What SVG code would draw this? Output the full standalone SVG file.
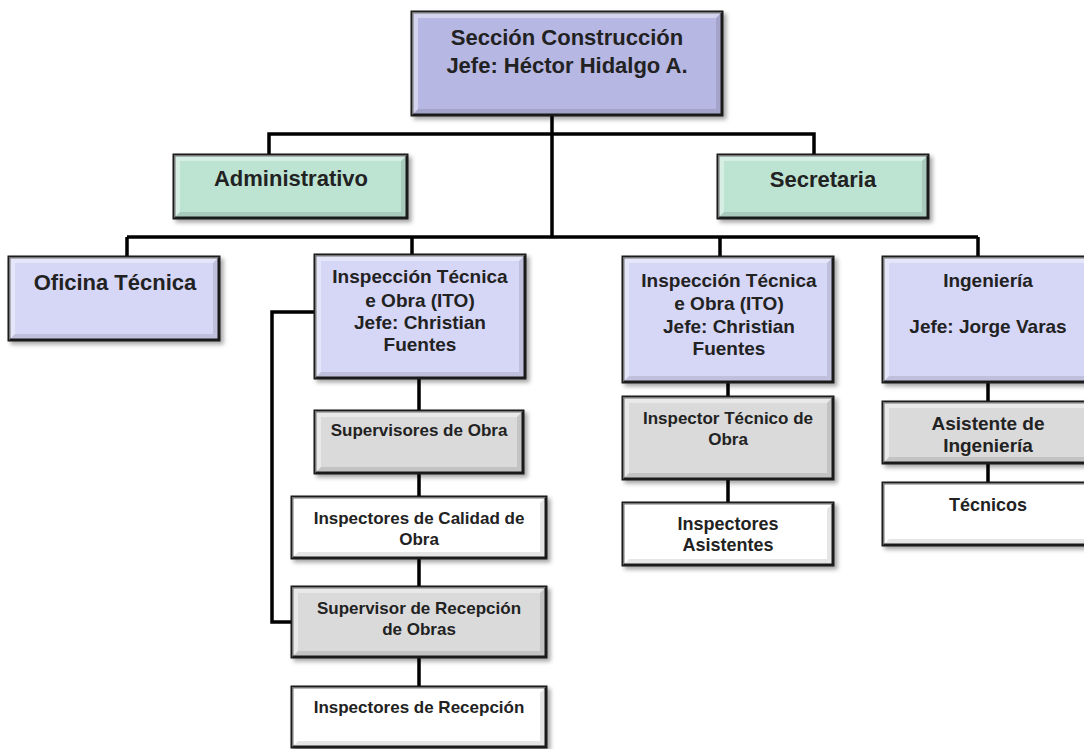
<svg xmlns="http://www.w3.org/2000/svg" width="1084" height="749" viewBox="0 0 1084 749">
  <defs>
    <filter id="shadow" x="-10%" y="-10%" width="130%" height="140%">
      <feDropShadow dx="3" dy="3" stdDeviation="2" flood-color="#000" flood-opacity="0.35"/>
    </filter>
  </defs>
  <style>
    .box { stroke: #1c1c1c; stroke-width: 3; filter: url(#shadow); }
    .head { fill: #b7b7e3; }
    .unit { fill: #d6d6f7; }
    .staff { fill: #bde3d3; }
    .sub { fill: #dadada; }
    .leaf { fill: #ffffff; }
    .hi { fill: #ffffff; fill-opacity: 0.4; }
    .lo { fill: #000000; fill-opacity: 0.1; }
    .wire { fill: none; stroke: #000; stroke-width: 3.5; }
    text { font-family: "Liberation Sans", Arial, sans-serif; font-weight: bold; fill: #222; text-anchor: middle; }
    .t22 { font-size: 22px; }
    .t19 { font-size: 19px; }
    .t18 { font-size: 18px; }
    .t17 { font-size: 17px; }
  </style>

  <rect width="1084" height="749" fill="#ffffff"/>

  <!-- connectors -->
  <g id="connectors">
    <path class="wire" d="M552,115 V237"/>
    <path class="wire" d="M269,155 V134 H814 V155"/>
    <path class="wire" d="M127,237 H978"/>
    <path class="wire" d="M127,237 V257 M412,237 V255 M720,237 V257 M978,237 V257"/>
    <path class="wire" d="M419,378 V411 M419,473 V497 M419,558 V587 M419,657 V687"/>
    <path class="wire" d="M315,312 H272 V622 H292"/>
    <path class="wire" d="M728,382 V397 M728,479 V503"/>
    <path class="wire" d="M988,382 V402 M988,463 V483"/>
  </g>

  <!-- Sección Construcción -->
  <g id="seccion">
    <rect class="box head" x="412" y="12" width="310" height="103"/>
    <path class="hi" d="M412,12 H722 L716,18 H418 V109 L412,115 Z"/>
    <path class="lo" d="M722,12 V115 H412 L418,109 H716 V18 Z"/>
    <text class="t22" x="567" y="45">Sección Construcción</text>
    <text class="t22" x="567" y="73">Jefe: Héctor Hidalgo A.</text>
  </g>

  <g id="administrativo">
    <rect class="box staff" x="174" y="155" width="233" height="63"/>
    <path class="hi" d="M174,155 H407 L401,161 H180 V212 L174,218 Z"/>
    <path class="lo" d="M407,155 V218 H174 L180,212 H401 V161 Z"/>
    <text class="t22" x="291" y="186">Administrativo</text>
  </g>

  <g id="secretaria">
    <rect class="box staff" x="718" y="155" width="210" height="63"/>
    <path class="hi" d="M718,155 H928 L922,161 H724 V212 L718,218 Z"/>
    <path class="lo" d="M928,155 V218 H718 L724,212 H922 V161 Z"/>
    <text class="t22" x="823" y="187">Secretaria</text>
  </g>

  <g id="oficina-tecnica">
    <rect class="box unit" x="9" y="257" width="210" height="83"/>
    <path class="hi" d="M9,257 H219 L213,263 H15 V334 L9,340 Z"/>
    <path class="lo" d="M219,257 V340 H9 L15,334 H213 V263 Z"/>
    <text class="t22" x="115" y="290">Oficina Técnica</text>
  </g>

  <g id="ito-1">
    <rect class="box unit" x="315" y="255" width="210" height="123"/>
    <path class="hi" d="M315,255 H525 L519,261 H321 V372 L315,378 Z"/>
    <path class="lo" d="M525,255 V378 H315 L321,372 H519 V261 Z"/>
    <text class="t19" x="420" y="283">Inspección Técnica</text>
    <text class="t19" x="420" y="307">e Obra (ITO)</text>
    <text class="t19" x="420" y="329">Jefe: Christian</text>
    <text class="t19" x="420" y="351">Fuentes</text>
  </g>

  <g id="ito-2">
    <rect class="box unit" x="623" y="257" width="210" height="125"/>
    <path class="hi" d="M623,257 H833 L827,263 H629 V376 L623,382 Z"/>
    <path class="lo" d="M833,257 V382 H623 L629,376 H827 V263 Z"/>
    <text class="t19" x="729" y="287">Inspección Técnica</text>
    <text class="t19" x="729" y="310">e Obra (ITO)</text>
    <text class="t19" x="729" y="333">Jefe: Christian</text>
    <text class="t19" x="729" y="355">Fuentes</text>
  </g>

  <g id="ingenieria">
    <rect class="box unit" x="883" y="257" width="210" height="125"/>
    <path class="hi" d="M883,257 H1093 L1087,263 H889 V376 L883,382 Z"/>
    <path class="lo" d="M1093,257 V382 H883 L889,376 H1087 V263 Z"/>
    <text class="t19" x="988" y="287">Ingeniería</text>
    <text class="t19" x="988" y="333">Jefe: Jorge Varas</text>
  </g>

  <g id="supervisores-obra">
    <rect class="box sub" x="315" y="411" width="208" height="62"/>
    <path class="hi" d="M315,411 H523 L517,417 H321 V467 L315,473 Z"/>
    <path class="lo" d="M523,411 V473 H315 L321,467 H517 V417 Z"/>
    <text class="t17" x="419" y="436">Supervisores de Obra</text>
  </g>

  <g id="inspectores-calidad">
    <rect class="box leaf" x="292" y="497" width="254" height="61"/>
    <path class="hi" d="M292,497 H546 L540,503 H298 V552 L292,558 Z"/>
    <path class="lo" d="M546,497 V558 H292 L298,552 H540 V503 Z"/>
    <text class="t17" x="419" y="524">Inspectores de Calidad de</text>
    <text class="t17" x="419" y="545">Obra</text>
  </g>

  <g id="supervisor-recepcion">
    <rect class="box sub" x="292" y="587" width="254" height="70"/>
    <path class="hi" d="M292,587 H546 L540,593 H298 V651 L292,657 Z"/>
    <path class="lo" d="M546,587 V657 H292 L298,651 H540 V593 Z"/>
    <text class="t17" x="419" y="614">Supervisor de Recepción</text>
    <text class="t17" x="419" y="635">de Obras</text>
  </g>

  <g id="inspectores-recepcion">
    <rect class="box leaf" x="292" y="687" width="254" height="60"/>
    <path class="hi" d="M292,687 H546 L540,693 H298 V741 L292,747 Z"/>
    <path class="lo" d="M546,687 V747 H292 L298,741 H540 V693 Z"/>
    <text class="t17" x="419" y="713">Inspectores de Recepción</text>
  </g>

  <g id="inspector-tecnico-obra">
    <rect class="box sub" x="623" y="397" width="210" height="82"/>
    <path class="hi" d="M623,397 H833 L827,403 H629 V473 L623,479 Z"/>
    <path class="lo" d="M833,397 V479 H623 L629,473 H827 V403 Z"/>
    <text class="t17" x="728" y="424">Inspector Técnico de</text>
    <text class="t17" x="728" y="445">Obra</text>
  </g>

  <g id="inspectores-asistentes">
    <rect class="box leaf" x="623" y="503" width="210" height="62"/>
    <path class="hi" d="M623,503 H833 L827,509 H629 V559 L623,565 Z"/>
    <path class="lo" d="M833,503 V565 H623 L629,559 H827 V509 Z"/>
    <text class="t18" x="728" y="530">Inspectores</text>
    <text class="t18" x="728" y="551">Asistentes</text>
  </g>

  <g id="asistente-ingenieria">
    <rect class="box sub" x="883" y="402" width="210" height="61"/>
    <path class="hi" d="M883,402 H1093 L1087,408 H889 V457 L883,463 Z"/>
    <path class="lo" d="M1093,402 V463 H883 L889,457 H1087 V408 Z"/>
    <text class="t19" x="988" y="430">Asistente de</text>
    <text class="t19" x="988" y="452">Ingeniería</text>
  </g>

  <g id="tecnicos">
    <rect class="box leaf" x="883" y="483" width="210" height="62"/>
    <path class="hi" d="M883,483 H1093 L1087,489 H889 V539 L883,545 Z"/>
    <path class="lo" d="M1093,483 V545 H883 L889,539 H1087 V489 Z"/>
    <text class="t18" x="988" y="511">Técnicos</text>
  </g>
</svg>
